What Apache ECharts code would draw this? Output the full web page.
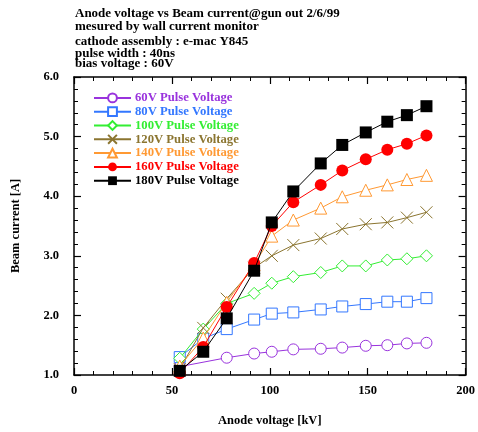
<!DOCTYPE html>
<html lang="en">
<head>
    <meta charset="UTF-8">
    <script src="https://cdn.jsdelivr.net/npm/echarts@6/dist/echarts.min.js"></script>
    <title>Anode voltage vs Beam current</title>
    <style>
        *{ margin: 0; padding: 0; }
        #chart{ width: 478px; height: 432px; background: #fff; }
    </style>
</head>
<body>
    <div id="chart"></div>
<script>
    // anode voltage [kV]
    var anodeKV = [54, 66, 78, 92, 101, 112, 126, 137, 149, 160, 170, 180];
    // beam current [A], one array per pulse voltage (null = no point)
    var v60  = [1.14, null, 1.29, 1.36, 1.39, 1.43, 1.44, 1.46, 1.49, 1.50, 1.53, 1.54];
    var v80  = [1.30, 1.61, 1.77, 1.93, 2.03, 2.05, 2.10, 2.15, 2.19, 2.23, 2.23, 2.29];
    var v100 = [1.28, 1.77, 2.20, 2.37, 2.54, 2.65, 2.72, 2.83, 2.83, 2.93, 2.95, 3.00];
    var v120 = [1.10, 1.79, 2.28, 2.80, 3.00, 3.18, 3.29, 3.45, 3.53, 3.56, 3.64, 3.73];
    var v140 = [1.15, 1.62, 2.22, 2.85, 3.33, 3.60, 3.80, 3.99, 4.10, 4.19, 4.28, 4.35];
    var v160 = [1.03, 1.47, 2.14, 2.88, 3.50, 3.90, 4.19, 4.43, 4.62, 4.78, 4.88, 5.02];
    var v180 = [1.07, 1.39, 1.95, 2.75, 3.56, 4.08, 4.55, 4.86, 5.07, 5.25, 5.36, 5.51];

    var seriesNames = ['60V Pulse Voltage', '80V Pulse Voltage', '100V Pulse Voltage',
        '120V Pulse Voltage', '140V Pulse Voltage', '160V Pulse Voltage', '180V Pulse Voltage'];
    var titleLines = ['Anode voltage vs Beam current@gun out 2/6/99',
        'mesured by wall current monitor',
        'cathode assembly : e-mac Y845',
        'pulse width : 40ns',
        'bias voltage : 60V'];

    var FONT = '"Liberation Serif", "Times New Roman", serif';
    var cross = 'path://M0,0L10,10M10,0L0,10';

    var styles = [
        {color: '#9933dd', symbol: 'circle', size: 11, hollow: true},
        {color: '#3377ff', symbol: 'rect', size: 11, hollow: true},
        {color: '#33ee33', symbol: 'diamond', size: 12, hollow: true},
        {color: '#8b7530', symbol: cross, size: 12, hollow: true},
        {color: '#ff9933', symbol: 'triangle', size: 12, hollow: true},
        {color: '#ff0000', symbol: 'circle', size: 12, hollow: false},
        {color: '#000000', symbol: 'rect', size: 12, hollow: false}
    ];
    var values = [v60, v80, v100, v120, v140, v160, v180];

    function pairs(arr) {
        var out = [];
        arr.forEach(function (v, i) {
            if (v !== null) out.push([anodeKV[i], v]);
        });
        return out;
    }

    var series = values.map(function (arr, k) {
        var s = styles[k];
        return {
            name: seriesNames[k],
            type: 'line',
            data: pairs(arr),
            symbol: s.symbol,
            symbolSize: s.size,
            showAllSymbol: true,
            z: 2 + k,
            lineStyle: {color: s.color, width: 1},
            itemStyle: s.hollow
                ? {color: s.symbol === cross ? 'rgba(0,0,0,0)' : '#fff', borderColor: s.color, borderWidth: 1}
                : {color: s.color, borderColor: s.color, borderWidth: 0},
            emphasis: {disabled: true}
        };
    });

    // title lines sit close together, the last two almost touch
    var titleTops = [7, 20, 35, 47, 57];
    var titles = titleLines.map(function (t, i) {
        return {
            text: t,
            left: 75,
            top: titleTops[i],
            padding: 0,
            textStyle: {fontFamily: FONT, fontWeight: 'bold', fontSize: 13, color: '#000'}
        };
    });

    var tickCommon = {
        axisLine: {onZero: false, lineStyle: {color: '#000', width: 1.5}},
        axisTick: {inside: true, length: 7, lineStyle: {color: '#000', width: 1.2}},
        minorTick: {show: true, splitNumber: 5, length: 4, lineStyle: {color: '#000', width: 1}},
        splitLine: {show: false}
    };

    var chart = echarts.init(document.getElementById('chart'));
    chart.setOption({
        backgroundColor: '#fff',
        animation: false,
        title: titles,
        grid: {left: 74, right: 8, top: 77, bottom: 54},
        legend: {
            left: 88,
            top: 86,
            orient: 'vertical',
            itemWidth: 37,
            itemHeight: 11,
            itemGap: 0,
            data: seriesNames.map(function (n, k) {
                return {name: n, textStyle: {color: styles[k].color}};
            }),
            textStyle: {fontFamily: FONT, fontWeight: 'bold', fontSize: 12.7, lineHeight: 13.8,
                padding: [0, 0, 0, -1]}
        },
        xAxis: [
            Object.assign({
                type: 'value', min: 0, max: 200, interval: 50, position: 'bottom',
                name: 'Anode voltage [kV]', nameLocation: 'middle', nameGap: 39,
                nameTextStyle: {fontFamily: FONT, fontWeight: 'bold', fontSize: 12.5, color: '#000'},
                axisLabel: {fontFamily: FONT, fontWeight: 'bold', fontSize: 12.5, color: '#000', margin: 9}
            }, tickCommon),
            Object.assign({
                type: 'value', min: 0, max: 200, interval: 50, position: 'top',
                axisLabel: {show: false}
            }, tickCommon)
        ],
        yAxis: [
            Object.assign({
                type: 'value', min: 1, max: 6, interval: 1, position: 'left',
                name: 'Beam current [A]', nameLocation: 'middle', nameGap: 52,
                nameTextStyle: {fontFamily: FONT, fontWeight: 'bold', fontSize: 12.5, color: '#000'},
                axisLabel: {fontFamily: FONT, fontWeight: 'bold', fontSize: 12.5, color: '#000', margin: 15,
                    formatter: function (v) { return v.toFixed(1); }}
            }, tickCommon),
            Object.assign({
                type: 'value', min: 1, max: 6, interval: 1, position: 'right',
                axisLabel: {show: false}
            }, tickCommon)
        ],
        series: series
    });
</script>
</body>
</html>
